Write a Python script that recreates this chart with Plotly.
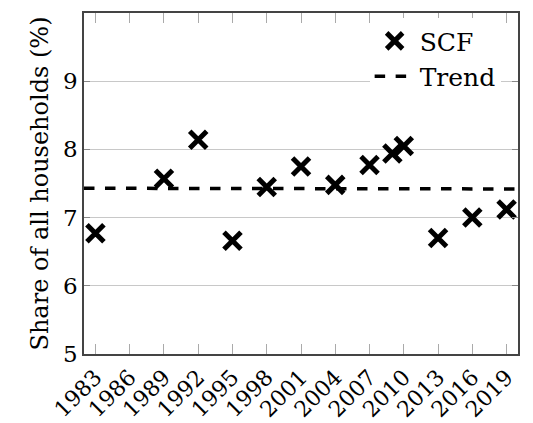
import plotly.graph_objects as go

years = [1983, 1989, 1992, 1995, 1998, 2001, 2004, 2007, 2009, 2010, 2013, 2016, 2019]
scf = [6.77, 7.57, 8.14, 6.66, 7.45, 7.75, 7.48, 7.77, 7.94, 8.05, 6.70, 7.00, 7.12]
trend_x = [1982, 2020]
trend_y = [7.43, 7.42]
tick_years = list(range(1983, 2020, 3))
tick_labels = [str(y) for y in tick_years]
y_ticks = [5, 6, 7, 8, 9]

font = "DejaVu Serif"

fig = go.Figure()
fig.add_trace(go.Scatter(
    x=years, y=scf, mode="markers", name="SCF",
    marker=dict(symbol="x-thin", size=17, color="black",
                line=dict(width=5, color="black")),
))
fig.add_trace(go.Scatter(
    x=trend_x, y=trend_y, mode="lines", name="Trend",
    line=dict(color="black", width=3.5, dash="dash"),
))

fig.update_layout(
    width=533, height=423,
    margin=dict(l=84, r=15, t=13, b=69),
    plot_bgcolor="white", paper_bgcolor="white",
    font=dict(family=font, size=23, color="black"),
    showlegend=True,
    legend=dict(x=0.96, y=0.985, xanchor="right", yanchor="top",
                bgcolor="white", borderwidth=0,
                font=dict(family=font, size=25, color="black"),
                tracegroupgap=0, itemwidth=40),
)
fig.update_xaxes(
    range=[1982, 2020], tickmode="array", tickvals=tick_years, ticktext=tick_labels,
    tickangle=-45, ticks="inside", ticklen=10, tickcolor="#aaaaaa", tickwidth=1,
    showline=True, linecolor="#444444", linewidth=1.5, mirror="ticks",
    showgrid=False, zeroline=False, automargin=False,
    tickfont=dict(family=font, size=22, color="black"),
)
fig.update_yaxes(
    range=[5, 10], tickmode="array", tickvals=y_ticks,
    ticks="inside", ticklen=6, tickcolor="#888888",
    showline=True, linecolor="#444444", linewidth=1.5, mirror="ticks",
    showgrid=True, gridcolor="#c8c8c8", gridwidth=1, zeroline=False, automargin=False,
    title=dict(text="Share of all households (%)", standoff=8,
               font=dict(family=font, size=24, color="black")),
    tickfont=dict(family=font, size=23, color="black"),
)

fig.write_html("out.html")
